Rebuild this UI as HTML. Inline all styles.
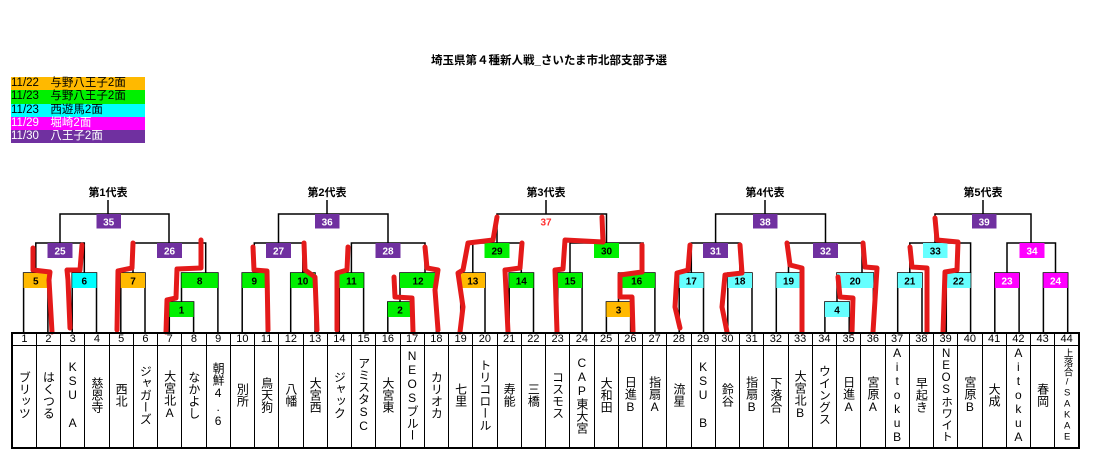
<!DOCTYPE html>
<html><head><meta charset="utf-8"><style>
body{margin:0;background:#fff;width:1098px;height:471px;overflow:hidden;position:relative;font-family:"Liberation Sans","Noto Sans CJK JP",sans-serif}
svg{position:absolute;left:0;top:0}
.lg{position:absolute;left:11px;width:134px;height:13.3px;font-size:11.5px;line-height:13.3px;white-space:pre}
table{position:absolute;left:11px;top:332px;width:1069px;border-collapse:collapse;table-layout:fixed;border:2px solid #000}
td{border:1.5px solid #000;padding:0;text-align:center;font-size:11px;}
tr.n td{height:11px;line-height:11px}
tr.m td{height:96px;vertical-align:middle}
.v{writing-mode:vertical-rl;text-orientation:upright;font-size:12px;line-height:14px;margin:0 auto;display:inline-block}
</style></head><body>
<div class="lg" style="top:77px;background:#ffb900">11/22　与野八王子2面</div>
<div class="lg" style="top:90.3px;background:#00f000">11/23　与野八王子2面</div>
<div class="lg" style="top:103.6px;background:#00ffff">11/23　西遊馬2面</div>
<div class="lg" style="top:116.9px;background:#ff00ff;color:#fff">11/29　堀崎2面</div>
<div class="lg" style="top:130.2px;background:#7030a0;color:#fff">11/30　八王子2面</div>
<svg width="1098" height="471" font-family="Liberation Sans, Noto Sans CJK JP, sans-serif">
<text x="549" y="64" font-size="11.5" font-weight="bold" text-anchor="middle">埼玉県第４種新人戦_さいたま市北部支部予選</text>
<g font-size="11" font-weight="bold" text-anchor="middle">
<text x="108" y="196">第1代表</text><text x="327" y="196">第2代表</text><text x="546" y="196">第3代表</text><text x="765" y="196">第4代表</text><text x="983" y="196">第5代表</text>
</g>
<g fill="none" stroke="#000" stroke-width="1.5">
<path d="M108 200V214M60 243V214H169V243M35.8 273V243H84.3V273M133 273V243H205.7V273"/>
<path d="M23.6 332V273H47.9V332M72.2 332V273H96.5V332M120.8 332V273H145V332M169.3 332V302H193.6V332M181.5 302V273H217.9V332"/>
<path d="M327 200V214M278.5 243V214H388V243M254.3 273V243H302.8V273M351.4 273V243H425V273"/>
<path d="M242.2 332V273H266.4V332M290.7 332V273H315V332M339.3 332V273H363.6V332M387.8 332V302H412.1V332M400 302V273H436.4V332"/>
<path d="M546 200V214M497 243V214H606.5V243M472.8 273V243H521.3V273M570 273V243H643V273"/>
<path d="M460.7 332V273H485V332M509.2 332V273H533.5V332M557.8 332V273H582.1V332M606.4 332V302H630.6V332M618.5 302V273H654.9V332"/>
<path d="M765 200V214M715.6 243V214H825.5V243M691.3 273V243H739.9V273M788.5 273V243H862V273"/>
<path d="M679.2 332V273H703.5V332M727.8 332V273H752V332M776.3 332V273H800.6V332M824.9 332V302H849.2V332M837 302V273H873.4V332"/>
<path d="M983 200V214M935 243V214H1031V243M909.8 273V243H970.6V273M1007 273V243H1055.5V273"/>
<path d="M897.7 332V273H922V332M946.3 332V273H970.6V332M994.8 332V273H1019.1V332M1043.4 332V273H1067.7V332"/>
</g>
<g font-size="10" font-weight="bold" text-anchor="middle">
<rect x="23.6" y="273" width="24.3" height="15" fill="#ffb900"/><text x="35.8" y="284.5">5</text>
<rect x="72.2" y="273" width="24.3" height="15" fill="#00ffff"/><text x="84.3" y="284.5">6</text>
<rect x="120.8" y="273" width="24.2" height="15" fill="#ffb900"/><text x="133" y="284.5">7</text>
<rect x="169.3" y="302" width="24.3" height="15" fill="#00f000"/><text x="181.5" y="313.5">1</text>
<rect x="181.5" y="273" width="36.4" height="15" fill="#00f000"/><text x="199.7" y="284.5">8</text>
<rect x="242.2" y="273" width="24.2" height="15" fill="#00f000"/><text x="254.3" y="284.5">9</text>
<rect x="290.7" y="273" width="24.3" height="15" fill="#00f000"/><text x="302.8" y="284.5">10</text>
<rect x="339.3" y="273" width="24.3" height="15" fill="#00f000"/><text x="351.4" y="284.5">11</text>
<rect x="387.8" y="302" width="24.3" height="15" fill="#00f000"/><text x="400" y="313.5">2</text>
<rect x="400" y="273" width="36.4" height="15" fill="#00f000"/><text x="418" y="284.5">12</text>
<rect x="460.7" y="273" width="24.3" height="15" fill="#ffb900"/><text x="472.8" y="284.5">13</text>
<rect x="509.2" y="273" width="24.3" height="15" fill="#00f000"/><text x="521.3" y="284.5">14</text>
<rect x="557.8" y="273" width="24.3" height="15" fill="#00f000"/><text x="570" y="284.5">15</text>
<rect x="606.4" y="302" width="24.2" height="15" fill="#ffb900"/><text x="618.5" y="313.5">3</text>
<rect x="618.5" y="273" width="36.4" height="15" fill="#00f000"/><text x="636.7" y="284.5">16</text>
<rect x="679.2" y="273" width="24.3" height="15" fill="#66ffff"/><text x="691.3" y="284.5">17</text>
<rect x="727.8" y="273" width="24.2" height="15" fill="#66ffff"/><text x="739.9" y="284.5">18</text>
<rect x="776.3" y="273" width="24.3" height="15" fill="#66ffff"/><text x="788.5" y="284.5">19</text>
<rect x="824.9" y="302" width="24.3" height="15" fill="#66ffff"/><text x="837" y="313.5">4</text>
<rect x="837" y="273" width="36.4" height="15" fill="#66ffff"/><text x="855.2" y="284.5">20</text>
<rect x="897.7" y="273" width="24.3" height="15" fill="#66ffff"/><text x="909.8" y="284.5">21</text>
<rect x="946.3" y="273" width="24.3" height="15" fill="#66ffff"/><text x="958.4" y="284.5">22</text>
<rect x="994.8" y="273" width="24.3" height="15" fill="#ff00ff"/><text x="1007" y="284.5" fill="#fff">23</text>
<rect x="1043.4" y="273" width="24.3" height="15" fill="#ff00ff"/><text x="1055.5" y="284.5" fill="#fff">24</text>
<rect x="47.5" y="243" width="25" height="15" fill="#7030a0"/><text x="60" y="254.5" fill="#fff">25</text>
<rect x="157" y="243" width="25" height="15" fill="#7030a0"/><text x="169.5" y="254.5" fill="#fff">26</text>
<rect x="266" y="243" width="25" height="15" fill="#7030a0"/><text x="278.5" y="254.5" fill="#fff">27</text>
<rect x="375.5" y="243" width="25" height="15" fill="#7030a0"/><text x="388" y="254.5" fill="#fff">28</text>
<rect x="484.5" y="243" width="25" height="15" fill="#00f000"/><text x="497" y="254.5">29</text>
<rect x="594" y="243" width="25" height="15" fill="#00f000"/><text x="606.5" y="254.5">30</text>
<rect x="703" y="243" width="25" height="15" fill="#7030a0"/><text x="715.5" y="254.5" fill="#fff">31</text>
<rect x="813" y="243" width="25" height="15" fill="#7030a0"/><text x="825.5" y="254.5" fill="#fff">32</text>
<rect x="923" y="243" width="24.5" height="15" fill="#66ffff"/><text x="935.3" y="254.5">33</text>
<rect x="1019.5" y="243" width="25" height="15" fill="#ff00ff"/><text x="1032" y="254.5" fill="#fff">34</text>
<rect x="96.5" y="214" width="24.5" height="14.5" fill="#7030a0"/><text x="108.7" y="225.3" fill="#fff">35</text>
<rect x="315" y="214" width="24.5" height="14.5" fill="#7030a0"/><text x="327.2" y="225.3" fill="#fff">36</text>
<text x="546" y="225.3" fill="#ff3030">37</text>
<rect x="753" y="214" width="24.5" height="14.5" fill="#7030a0"/><text x="765.2" y="225.3" fill="#fff">38</text>
<rect x="972" y="214" width="24.5" height="14.5" fill="#7030a0"/><text x="984.2" y="225.3" fill="#fff">39</text>
</g>
<g fill="none" stroke="#e41a1a" stroke-width="5" stroke-linejoin="round" stroke-linecap="round">
<path d="M33 248L33 270L50 272L49 280L52 332"/>
<path d="M82 245L80 270L67 270L68 280L70 328"/>
<path d="M133 243L132 268L118 271L117 330"/>
<path d="M201 240L201 268L177 269L176 298L167 300L166 332"/>
<path d="M253 247L254 270L267 271L268 330"/>
<path d="M304 243L305 270L315 277L317 330"/>
<path d="M348 247L347 270L337 273L337 330"/>
<path d="M394 277L395 297L412 298L413 332"/>
<path d="M425 247L427 268L438 270L435 290L438 330"/>
<path d="M497 217L493 240L468 243L463 270L458 273L463 307L460 332"/>
<path d="M522 243L520 268L505 270L508 332"/>
<path d="M602 217L603 242L565 240L563 269L555 270L557 332"/>
<path d="M642 245L642 272L620 275L620 297L632 297L633 332"/>
<path d="M690 245L688 270L677 273L675 307L680 328"/>
<path d="M740 245L742 273L725 275L722 307L727 332"/>
<path d="M787 243L790 265L802 268L802 332"/>
<path d="M863 243L865 267L877 268L873 332"/>
<path d="M838 277L840 297L853 298L852 332"/>
<path d="M910 247L912 267L927 268L927 332"/>
<path d="M935 218L937 240L958 242L957 270L945 272L943 332"/>
</g>
</svg>
<table>
<tr class="n"><td>1</td><td>2</td><td>3</td><td>4</td><td>5</td><td>6</td><td>7</td><td>8</td><td>9</td><td>10</td><td>11</td><td>12</td><td>13</td><td>14</td><td>15</td><td>16</td><td>17</td><td>18</td><td>19</td><td>20</td><td>21</td><td>22</td><td>23</td><td>24</td><td>25</td><td>26</td><td>27</td><td>28</td><td>29</td><td>30</td><td>31</td><td>32</td><td>33</td><td>34</td><td>35</td><td>36</td><td>37</td><td>38</td><td>39</td><td>40</td><td>41</td><td>42</td><td>43</td><td>44</td></tr>
<tr class="m"><td><span class="v">ブリッツ</span></td><td><span class="v">はくつる</span></td><td><span class="v">KSU A</span></td><td><span class="v">慈恩寺</span></td><td><span class="v">西北</span></td><td><span class="v">ジャガーズ</span></td><td><span class="v">大宮北A</span></td><td><span class="v">なかよし</span></td><td><span class="v">朝鮮4.6</span></td><td><span class="v">別所</span></td><td><span class="v">鳥天狗</span></td><td><span class="v">八幡</span></td><td><span class="v">大宮西</span></td><td><span class="v">ジャック</span></td><td><span class="v">アミスタSC</span></td><td><span class="v">大宮東</span></td><td><span class="v">NEOSブルー</span></td><td><span class="v">カリオカ</span></td><td><span class="v">七里</span></td><td><span class="v">トリコロール</span></td><td><span class="v">寿能</span></td><td><span class="v">三橋</span></td><td><span class="v">コスモス</span></td><td><span class="v">CAP東大宮</span></td><td><span class="v">大和田</span></td><td><span class="v">日進B</span></td><td><span class="v">指扇A</span></td><td><span class="v">流星</span></td><td><span class="v">KSU B</span></td><td><span class="v">鈴谷</span></td><td><span class="v">指扇B</span></td><td><span class="v">下落合</span></td><td><span class="v">大宮北B</span></td><td><span class="v">ウイングス</span></td><td><span class="v">日進A</span></td><td><span class="v">宮原A</span></td><td><span class="v">AitokuB</span></td><td><span class="v">早起き</span></td><td><span class="v" style="font-size:11.5px;line-height:13px">NEOSホワイト</span></td><td><span class="v">宮原B</span></td><td><span class="v">大成</span></td><td><span class="v">AitokuA</span></td><td><span class="v">春岡</span></td><td><span class="v" style="font-size:9.5px">上落合/SAKAE</span></td></tr>
</table>
</body></html>
